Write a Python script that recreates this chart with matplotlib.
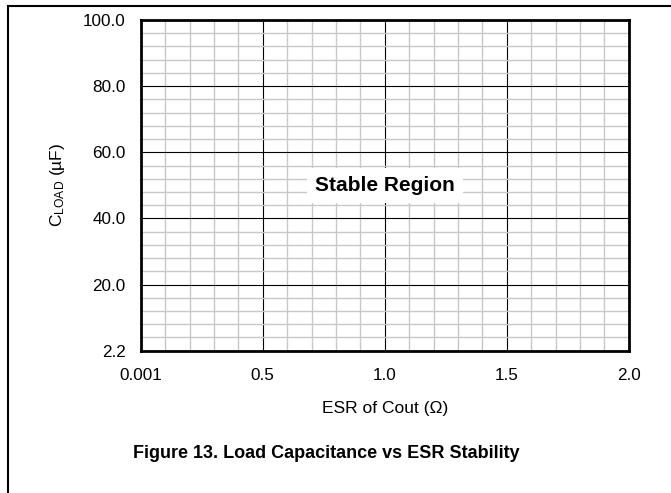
import matplotlib.pyplot as plt
import matplotlib as mpl
from matplotlib.ticker import MultipleLocator

plt.rcParams['font.family'] = ['Liberation Sans', 'DejaVu Sans']
plt.rcParams['mathtext.fontset'] = 'custom'
plt.rcParams['mathtext.rm'] = 'Liberation Sans'

# axis setup
X_TICKS = [0.0, 0.5, 1.0, 1.5, 2.0]
X_LABELS = ['0.001', '0.5', '1.0', '1.5', '2.0']
Y_TICKS = [0, 20, 40, 60, 80, 100]
Y_LABELS = ['2.2', '20.0', '40.0', '60.0', '80.0', '100.0']
X_MINOR = 0.1
Y_MINOR = 4
REGION_LABEL = 'Stable Region'
REGION_POS = [1.0, 50.0]

fig = plt.figure(figsize=(6.71, 4.93), dpi=100)
ax = fig.add_axes([0.2097, 0.2886, 0.7273, 0.6708])

ax.set_xlim(X_TICKS[0], X_TICKS[-1])
ax.set_ylim(Y_TICKS[0], Y_TICKS[-1])
ax.set_xticks(X_TICKS)
ax.set_xticklabels(X_LABELS)
ax.set_yticks(Y_TICKS)
ax.set_yticklabels(Y_LABELS)
ax.xaxis.set_minor_locator(MultipleLocator(X_MINOR))
ax.yaxis.set_minor_locator(MultipleLocator(Y_MINOR))

ax.grid(which='minor', color='#c8c8c8', linewidth=1.0)
ax.grid(which='major', color='black', linewidth=0.8)
ax.set_axisbelow(True)
ax.tick_params(which='both', length=0)
ax.tick_params(axis='x', pad=12.5, labelsize=12.3)
ax.tick_params(axis='y', pad=11, labelsize=12.3)
for s in ax.spines.values():
    s.set_linewidth(2.0)
    s.set_zorder(5)

ax.set_xlabel('ESR of Cout (\u03a9)', fontsize=12.5, labelpad=13)
ax.set_ylabel('$\\mathrm{C_{LOAD}}$ (\u00b5F)', fontsize=12.5, labelpad=11)

ax.text(REGION_POS[0], REGION_POS[1], REGION_LABEL, ha='center', va='center',
        fontsize=15, fontweight='bold', zorder=6,
        bbox=dict(boxstyle='square,pad=0.4', facecolor='white', edgecolor='none'))

fig.text(326 / 671, 1 - 453 / 493, 'Figure 13. Load Capacitance vs ESR Stability',
         ha='center', va='center', fontsize=13, fontweight='bold')

# page frame lines (left and top)
fig.add_artist(mpl.lines.Line2D([8 / 671, 8 / 671], [0, 1 - 6 / 493], color='black', linewidth=1.5))
fig.add_artist(mpl.lines.Line2D([8 / 671, 1], [1 - 6 / 493, 1 - 6 / 493], color='black', linewidth=1.5))

plt.savefig('out.png', dpi=100)
